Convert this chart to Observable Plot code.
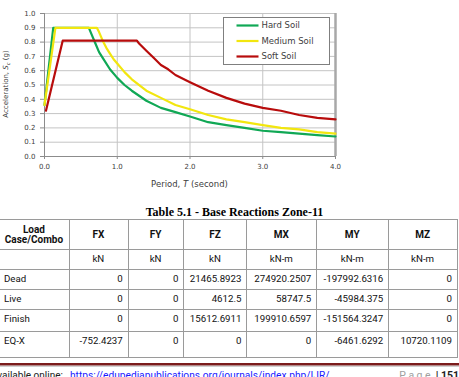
<!DOCTYPE html>
<html>
<head>
<meta charset="utf-8">
<script src="https://cdn.jsdelivr.net/npm/d3@7"></script>
<script src="https://cdn.jsdelivr.net/npm/@observablehq/plot@0.6"></script>
<style>
  body { margin: 0; background: #fff; width: 459px; height: 377px; overflow: hidden; position: relative; font-family: Roboto, "Liberation Sans", sans-serif; }
  #chart { position: absolute; left: 0; top: 0; }
  #title { position: absolute; top: 205px; left: 5px; width: 459px; text-align: center; font: bold 12px "Liberation Serif", serif; color: #000; }
  #reactions { position: absolute; left: -1px; top: 219px; border-collapse: collapse; table-layout: fixed; font-size: 9.7px; color: #111; }
  #reactions td, #reactions th { border: 1px solid #9a9a9a; padding: 0 5px 0 4px; line-height: 12px; overflow: hidden; white-space: nowrap; }
  #reactions th { font-weight: bold; text-align: center; vertical-align: middle; height: 29px; line-height: 9.5px; font-size: 10px; }
  #reactions tr.units td { text-align: center; vertical-align: top; padding-top: 3px; height: 16px; }
  #reactions tr.body td { text-align: right; vertical-align: top; padding-top: 3px; }
  #reactions tr.body td:first-child { text-align: left; }
  #footline { position: absolute; left: 0; top: 363px; width: 459px; height: 2px; background: #7b1c1c; border-bottom: 1px solid #b58a8a; }
  #footline2 { position: absolute; left: 0; top: 366px; width: 459px; height: 1px; background: #d0d0d0; }
  #footer { position: absolute; left: -9px; top: 370px; font-size: 10px; line-height: 12px; color: #222; white-space: nowrap; }
  #footlink { position: absolute; left: 70px; top: 370px; font-size: 10.2px; line-height: 12px; color: #1a1aff; text-decoration: underline; white-space: nowrap; }
  #page { position: absolute; right: 0; top: 370px; font-size: 10.5px; line-height: 12px; white-space: nowrap; }
  #page .pg { color: #a0a0a0; letter-spacing: 2.5px; }
  #page b { color: #222; }
</style>
</head>
<body>
<div id="chart"></div>
<div id="title"></div>
<table id="reactions"></table>
<div id="footline"></div>
<div id="footline2"></div>
<div id="footer">Available online:</div>
<div id="footlink">https://edupediapublications.org/journals/index.php/IJR/</div>
<div id="page"><span class="pg">Page</span> <b>| 151</b></div>
<script>
// Design response spectra: period T (s) against spectral acceleration (g)
const hardPeriod = [0, 0.12, 0.61, 0.65, 0.7, 0.75, 0.8, 0.9, 1.0, 1.1, 1.2, 1.4, 1.6, 1.8, 2.0, 2.25, 2.5, 2.75, 3.0, 3.25, 3.5, 3.75, 4.0];
const hardAcc    = [0.36, 0.90, 0.90, 0.85, 0.79, 0.73, 0.69, 0.61, 0.55, 0.50, 0.46, 0.39, 0.34, 0.31, 0.28, 0.24, 0.22, 0.20, 0.18, 0.17, 0.16, 0.15, 0.14];

const mediumPeriod = [0, 0.15, 0.72, 0.75, 0.8, 0.85, 0.9, 0.95, 1.0, 1.1, 1.2, 1.4, 1.6, 1.8, 2.0, 2.25, 2.5, 2.75, 3.0, 3.25, 3.5, 3.75, 4.0];
const mediumAcc    = [0.36, 0.90, 0.90, 0.87, 0.81, 0.76, 0.72, 0.68, 0.65, 0.59, 0.54, 0.46, 0.41, 0.36, 0.33, 0.29, 0.26, 0.24, 0.22, 0.20, 0.19, 0.17, 0.16];

const softPeriod = [0.02, 0.25, 1.27, 1.3, 1.4, 1.5, 1.6, 1.7, 1.8, 2.0, 2.25, 2.5, 2.75, 3.0, 3.25, 3.5, 3.75, 4.0];
const softAcc    = [0.32, 0.81, 0.81, 0.79, 0.74, 0.69, 0.64, 0.61, 0.57, 0.52, 0.46, 0.41, 0.37, 0.34, 0.32, 0.29, 0.27, 0.26];

const soilNames  = ["Hard Soil", "Medium Soil", "Soft Soil"];
const soilColors = ["#10a855", "#f2e60f", "#b80c0c"];

const periodTicks = [0, 1, 2, 3, 4];
const accTicks = [0, 0.1, 0.2, 0.3, 0.4, 0.5, 0.6, 0.7, 0.8, 0.9, 1.0];

// Base reactions table
const tableTitle = "Table 5.1 - Base Reactions Zone-11";
const reactionCols  = ["FX", "FY", "FZ", "MX", "MY", "MZ"];
const reactionUnits = ["kN", "kN", "kN", "kN-m", "kN-m", "kN-m"];
const loadCases = ["Dead", "Live", "Finish", "EQ-X"];
const fx = ["0", "0", "0", "-752.4237"];
const fy = ["0", "0", "0", "0"];
const fz = ["21465.8923", "4612.5", "15612.6911", "0"];
const mx = ["274920.2507", "58747.5", "199910.6597", "0"];
const my = ["-197992.6316", "-45984.375", "-151564.3247", "-6461.6292"];
const mz = ["0", "0", "0", "10720.1109"];

const spectra = [
  ...hardPeriod.map((t, i) => ({soil: soilNames[0], T: t, Sa: hardAcc[i]})),
  ...mediumPeriod.map((t, i) => ({soil: soilNames[1], T: t, Sa: mediumAcc[i]})),
  ...softPeriod.map((t, i) => ({soil: soilNames[2], T: t, Sa: softAcc[i]}))
];

const fmt1 = d => d.toFixed(1);

const chart = Plot.plot({
  width: 459,
  height: 197,
  marginLeft: 44,
  marginRight: 124,
  marginTop: 13,
  marginBottom: 41,
  style: {fontFamily: "DejaVu Sans", fontSize: "7px", color: "#404040", background: "transparent"},
  x: {domain: [0, 4], label: null},
  y: {domain: [0, 1], label: null},
  color: {domain: soilNames, range: soilColors},
  marks: [
    Plot.gridX(periodTicks, {stroke: "#c4c4c4", strokeOpacity: 1}),
    Plot.gridY(accTicks, {stroke: "#c4c4c4", strokeOpacity: 1}),
    Plot.ruleX([4], {stroke: "#a8a8a8", strokeWidth: 2.5}),
    Plot.ruleX([0], {stroke: "#8c8c8c"}),
    Plot.ruleY([0], {stroke: "#8c8c8c"}),
    Plot.axisX(periodTicks, {tickFormat: fmt1, tickSize: 3, tickPadding: 5, stroke: "#8c8c8c", label: null}),
    Plot.axisY(accTicks, {tickFormat: fmt1, tickSize: 4, tickPadding: 5, stroke: "#8c8c8c", label: null}),
    Plot.line(spectra, {x: "T", y: "Sa", z: "soil", stroke: "soil", strokeWidth: 2.2})
  ]
});
document.getElementById("chart").append(chart);

// Axis titles with italic symbols, and the boxed legend
const svg = d3.select(chart);
const xTitle = svg.append("text")
  .attr("x", 189.5).attr("y", 186.5)
  .attr("text-anchor", "middle")
  .attr("font-family", "DejaVu Sans").attr("font-size", 8.5).attr("fill", "#404040");
xTitle.append("tspan").text("Period, ");
xTitle.append("tspan").attr("font-style", "italic").text("T");
xTitle.append("tspan").text(" (second)");

const yTitle = svg.append("text")
  .attr("transform", "translate(8,84) rotate(-90)")
  .attr("text-anchor", "middle")
  .attr("font-family", "DejaVu Sans").attr("font-size", 7).attr("fill", "#404040");
yTitle.append("tspan").text("Acceleration, ");
yTitle.append("tspan").attr("font-style", "italic").text("S");
yTitle.append("tspan").attr("font-style", "italic").attr("font-size", 5).attr("dy", 1.5).text("c");
yTitle.append("tspan").attr("dy", -1.5).text(" (g)");

const legend = svg.append("g").attr("transform", "translate(223.5,17.5)");
legend.append("rect")
  .attr("x", 0).attr("y", 0).attr("width", 106).attr("height", 47)
  .style("fill", "#ffffff").style("stroke", "#7f7f7f").style("stroke-width", "1px");
soilNames.forEach((name, i) => {
  const yy = 8 + i * 15.5;
  legend.append("line").attr("x1", 13).attr("x2", 35).attr("y1", yy).attr("y2", yy)
    .style("stroke", soilColors[i]).style("stroke-width", "2.2px");
  legend.append("text").attr("x", 38).attr("y", yy).attr("dy", "0.35em")
    .attr("text-anchor", "start")
    .attr("font-family", "DejaVu Sans").attr("font-size", 8.5).attr("fill", "#404040")
    .text(name);
});

// Table
document.getElementById("title").textContent = tableTitle;
const colWidths = [70, 59, 57, 63, 70, 72, 69];
const rowHeights = [16, 16, 18, 22];
const table = d3.select("#reactions");
const colgroup = table.append("colgroup");
colWidths.forEach(w => colgroup.append("col").style("width", w + "px"));
const head = table.append("tr");
head.append("th").html("Load<br>Case/Combo");
reactionCols.forEach(c => head.append("th").text(c));
const units = table.append("tr").attr("class", "units");
units.append("td").text("");
reactionUnits.forEach(u => units.append("td").text(u));
const columns = [fx, fy, fz, mx, my, mz];
loadCases.forEach((name, r) => {
  const tr = table.append("tr").attr("class", "body");
  tr.append("td").style("height", rowHeights[r] + "px").text(name);
  columns.forEach(col => tr.append("td").text(col[r]));
});
</script>
</body>
</html>
